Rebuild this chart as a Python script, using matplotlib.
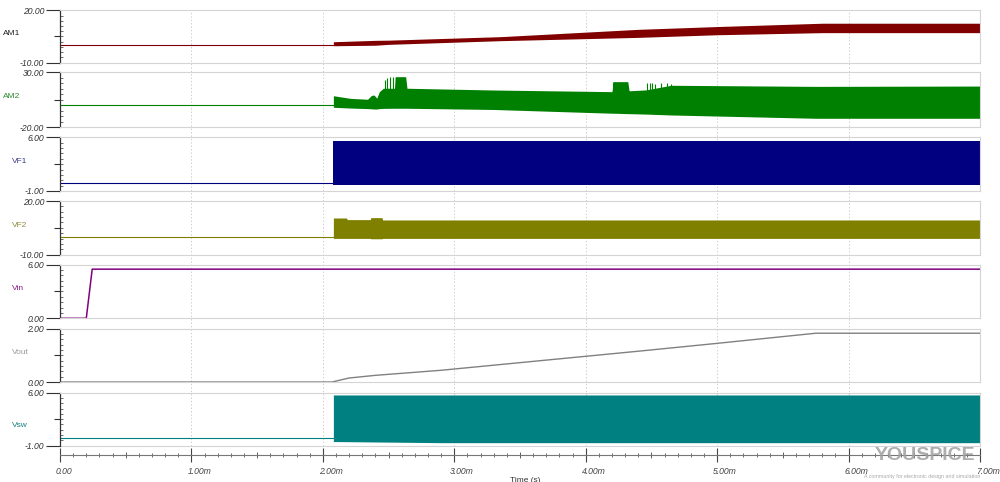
import numpy as np
import matplotlib.pyplot as plt
from matplotlib.ticker import MultipleLocator, FixedLocator
import matplotlib.transforms as mtransforms

plt.rcParams['font.family'] = ['Liberation Sans', 'DejaVu Sans']

# 信号名称、颜色、纵轴范围
names = ['AM1', 'AM2', 'VF1', 'VF2', 'Vin', 'Vout', 'Vsw']
colors = ['#800000', '#008000', '#000080', '#808000', '#800080', '#808080', '#008080']
label_colors = ['#222222', '#2e8b2e', '#3a3a8c', '#8c8c3a', '#8b1a8b', '#9a9a9a', '#1a8080']
ylims = [(-10, 20), (-20, 30), (-1, 6), (-10, 20), (0, 6), (0, 2), (-1, 6)]

# time in ms
t_start_sw = 2.08
baseline_t = [0.0, t_start_sw]
baseline_v = [0.0, 0.0]

# AM1 开关纹波包络
am1_t = [2.08, 2.40, 2.50, 3.35, 4.40, 5.00, 5.80, 7.00]
am1_lo = [-0.3, 0.0, 0.5, 2.6, 4.5, 6.0, 7.2, 7.2]
am1_hi = [2.0, 2.8, 2.9, 4.9, 9.1, 10.7, 12.6, 12.6]

# AM2 包络 + 尖峰
am2_t = [2.08, 2.21, 2.34, 2.37, 2.39, 2.41, 2.43, 2.46, 2.545, 2.55, 2.63, 2.64,
         3.30, 4.20, 4.21, 4.32, 4.33, 4.46, 4.65, 5.75, 7.00]
am2_hi = [8.7, 6.3, 5.5, 9.0, 9.3, 6.5, 12.4, 15.5, 15.5, 26.0, 26.0, 15.5,
          13.9, 12.4, 21.5, 21.5, 13.2, 14.0, 18.2, 17.2, 17.5]
am2_lo = [-1.8, -2.5, -3.0, -3.2, -3.4, -3.4, -3.0, -2.8, -2.7, -2.7, -2.7, -2.7,
          -3.8, -7.2, -7.2, -7.6, -7.6, -8.0, -8.8, -11.8, -11.8]
am2_spike_t = [2.473, 2.491, 2.511, 2.531, 4.21, 4.47, 4.49, 4.505, 4.53, 4.57, 4.62, 4.65]
am2_spike_hi = [23.0, 24.5, 26.0, 26.0, 21.5, 20.0, 20.0, 20.0, 19.5, 20.0, 20.0, 19.5]

# VF1
vf1_t = [2.08, 7.00]
vf1_lo = [-0.2, -0.2]
vf1_hi = [5.55, 5.55]

# VF2
vf2_t = [2.08, 2.18, 2.185, 2.36, 2.365, 2.45, 2.455, 7.00]
vf2_lo = [-0.9, -0.9, -0.9, -0.9, -1.1, -1.1, -0.9, -0.9]
vf2_hi = [10.5, 10.5, 9.6, 9.6, 10.7, 10.7, 9.4, 9.4]

# Vin
vin_t = [0.0, 0.20, 0.245, 7.00]
vin_v = [0.0, 0.0, 5.5, 5.5]

# Vout
vout_t = [0.0, 2.07, 2.20, 2.40, 2.90, 4.41, 5.00, 5.75, 7.00]
vout_v = [0.0, 0.0, 0.15, 0.25, 0.44, 1.16, 1.45, 1.83, 1.83]

# Vsw
vsw_t = [2.08, 2.90, 7.00]
vsw_lo = [-0.45, -0.6, -0.6]
vsw_hi = [5.7, 5.7, 5.7]

x_ticks = [0, 1, 2, 3, 4, 5, 6, 7]
x_ticklabels = ['0.00', '1.00m', '2.00m', '3.00m', '4.00m', '5.00m', '6.00m', '7.00m']

# 版面 (像素)
W, H = 1000, 482
panel_px = [(10.3, 62.7), (72.3, 127.3), (137.3, 191.0), (201.0, 254.7),
            (264.7, 318.3), (328.7, 382.0), (392.7, 445.7)]
label_x_px = [3, 3, 12, 12, 12, 12, 12]
label_yfrac = [0.56, 0.56, 0.55, 0.55, 0.56, 0.56, 0.39]
x0_px, x1_px = 60, 980
frame_c = '#d4d4d4'

fig = plt.figure(figsize=(W / 100, H / 100), dpi=100)
fig.patch.set_facecolor('white')

# 竖直网格 (贯穿所有面板)
bg = fig.add_axes([x0_px / W, 1 - panel_px[-1][1] / H, (x1_px - x0_px) / W,
                   (panel_px[-1][1] - panel_px[0][0]) / H])
bg.set_xlim(0, 7)
bg.axis('off')
for xt in x_ticks[1:-1]:
    bg.axvline(xt, color='#d0d0d0', lw=0.7, ls=(0, (1.5, 2)))

axes = []
for i, (top, bot) in enumerate(panel_px):
    ax = fig.add_axes([x0_px / W, 1 - bot / H, (x1_px - x0_px) / W, (bot - top) / H])
    ax.set_facecolor('none')
    ax.set_xlim(0, 7)
    lo, hi = ylims[i]
    ax.set_ylim(lo, hi)
    for s in ['top', 'right', 'bottom']:
        ax.spines[s].set_color(frame_c)
        ax.spines[s].set_linewidth(0.8)
    ax.spines['left'].set_color('#333333')
    ax.spines['left'].set_linewidth(0.9)
    ax.set_yticks([lo, hi])
    ax.set_yticklabels(['%.2f' % lo, '%.2f' % hi], fontstyle='italic')
    ax.yaxis.set_minor_locator(FixedLocator(np.linspace(lo, hi, 11)[1:-1]))
    ax.tick_params(axis='y', which='major', direction='out', length=10, width=0.8,
                   pad=1.5, labelsize=6.2, colors='#333333')
    ax.tick_params(axis='y', which='minor', direction='in', length=2.2, width=0.6,
                   colors='#555555')
    # 中间刻度朝外
    ax.plot([0], [(lo + hi) / 2], marker=0, markersize=4.5, color='#333333', mew=0.8,
            transform=ax.get_yaxis_transform(), clip_on=False)
    ax.tick_params(axis='x', which='both', bottom=False, labelbottom=False)
    fig.text(label_x_px[i] / W, 1 - (bot - label_yfrac[i] * (bot - top)) / H, names[i],
             color=label_colors[i], fontsize=6, ha='left', va='center')
    axes.append(ax)

lw = 0.8
# AM1
ax = axes[0]
ax.plot(baseline_t, baseline_v, color=colors[0], lw=lw)
ax.fill_between(am1_t, am1_lo, am1_hi, color=colors[0], lw=0)
# AM2
ax = axes[1]
ax.plot(baseline_t, baseline_v, color=colors[1], lw=lw)
ax.fill_between(am2_t, am2_lo, am2_hi, color=colors[1], lw=0)
ax.vlines(am2_spike_t, 0, am2_spike_hi, color=colors[1], lw=0.8)
# VF1
ax = axes[2]
ax.plot(baseline_t, baseline_v, color=colors[2], lw=lw)
ax.fill_between(vf1_t, vf1_lo, vf1_hi, color=colors[2], lw=0)
# VF2
ax = axes[3]
ax.plot(baseline_t, baseline_v, color=colors[3], lw=lw)
ax.fill_between(vf2_t, vf2_lo, vf2_hi, color=colors[3], lw=0)
# Vin
axes[4].plot(vin_t, vin_v, color=colors[4], lw=1.1)
# Vout
axes[5].plot(vout_t, vout_v, color=colors[5], lw=1.0)
# Vsw
ax = axes[6]
ax.plot(baseline_t, baseline_v, color=colors[6], lw=lw)
ax.fill_between(vsw_t, vsw_lo, vsw_hi, color=colors[6], lw=0)

# 底部时间轴
ax = axes[6]
ax.plot([0, 1], [0, 0], color=frame_c, lw=0.8, transform=ax.transAxes, clip_on=False)
ax.spines['bottom'].set_position(('outward', 7))
ax.spines['bottom'].set_color('#777777')
ax.set_xticks(x_ticks)
ax.set_xticklabels(x_ticklabels, fontstyle='italic')
ax.xaxis.set_minor_locator(MultipleLocator(0.1))
ax.tick_params(axis='x', which='major', bottom=True, labelbottom=True, direction='inout',
               length=10, width=0.8, pad=3.5, labelsize=6.2, colors='#444444')
ax.tick_params(axis='x', which='minor', bottom=True, direction='inout', length=3,
               width=0.6, colors='#555555')
off = mtransforms.ScaledTranslation(-4 / 100, 0, fig.dpi_scale_trans)
for lab in ax.get_xticklabels():
    lab.set_horizontalalignment('left')
    lab.set_transform(lab.get_transform() + off)
half_tr = mtransforms.offset_copy(ax.get_xaxis_transform(), fig=fig, y=-9.7, units='dots')
ax.plot(np.arange(0.5, 7, 1.0), np.zeros(7), ls='none', marker='|', markersize=5,
        mew=0.6, color='#555555', transform=half_tr, clip_on=False)

fig.text(525 / W, 1 - 480 / H, 'Time (s)', fontsize=6, ha='center', va='center',
         color='#333333')

# 水印
fig.text(0.925, 1 - 456 / H, 'YOUSPICE', fontsize=14, fontweight='bold',
         color='#a0a0a0', ha='center', va='center', alpha=0.85)
fig.text(0.922, 1 - 476.5 / H, 'A community for electronic design and simulation',
         fontsize=3.8, color='#a8a8a8', ha='center', va='center')

fig.savefig('out.png', dpi=100)
